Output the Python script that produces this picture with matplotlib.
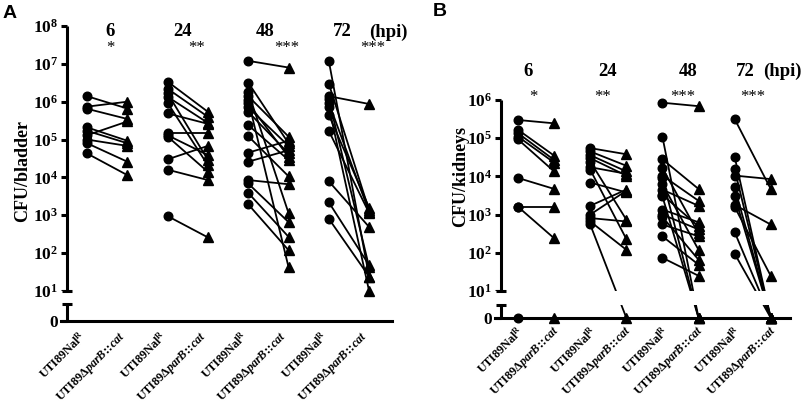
import numpy as np
import matplotlib
matplotlib.use('Agg')
import matplotlib.pyplot as plt

plt.rcParams['font.family'] = ['Liberation Serif', 'DejaVu Serif']
plt.rcParams['mathtext.fontset'] = 'custom'
plt.rcParams['mathtext.rm'] = 'Liberation Serif:bold'
plt.rcParams['mathtext.bf'] = 'Liberation Serif:bold'
plt.rcParams['mathtext.it'] = 'Liberation Serif:italic:bold'
plt.rcParams['mathtext.fallback'] = 'stix'

# ---------------- data ----------------
hpi = ['6', '24', '48', '72']
stars = ['*', '**', '***', '***']
strain_labels = [r'$\mathrm{UTI89Nal}^{\mathrm{R}}$',
                 r'$\mathrm{UTI89\Delta}\mathit{parB}\!:\!\!:\!\mathit{cat}$']

# Panel A: CFU/bladder (paired: wild type -> mutant)
bladder_wt_6 = [1.4e6, 7.4e5, 6.5e5, 2.1e5, 1.7e5, 1.3e5, 1.0e5, 8.0e4, 4.3e4]
bladder_mut_6 = [6.6e5, 1.0e6, 3.5e5, 9.3e4, 8.0e4, 3.0e5, 6.8e4, 2.6e4, 1.15e4]

bladder_wt_24 = [3.4e6, 2.2e6, 1.66e6, 1.35e6, 9.3e5, 4.9e5, 1.45e5, 1.3e5,
                 1.2e5, 3.0e4, 1.6e4, 9.5e2]
bladder_mut_24 = [5.4e5, 4.0e5, 2.9e4, 2.75e5, 2.1e4, 2.6e5, 1.45e5, 3.9e4,
                  1.4e4, 6.8e4, 8.5e3, 2.6e2]

bladder_wt_48 = [1.2e7, 3.2e6, 1.8e6, 1.4e6, 1.1e6, 9.1e5, 7.1e5, 5.4e5,
                 2.4e5, 1.23e5, 4.5e4, 2.6e4, 8.5e3, 6.9e3, 3.9e3, 1.95e3]
bladder_mut_48 = [8.0e6, 8.0e4, 1.15e3, 1.2e5, 43, 3.5e4, 6.8e4, 4.3e4,
                  2.9e4, 1.07e4, 9.3e4, 5.2e4, 6.6e3, 6.6e2, 2.7e2, 1.2e2]

bladder_wt_72 = [1.2e7, 3.0e6, 1.4e6, 1.15e6, 9.3e5, 7.4e5, 4.5e5, 1.7e5,
                 7.9e3, 2.2e3, 8.1e2]
bladder_mut_72 = [24, 1.35e3, 8.7e5, 43, 1.23e3, 10, 1.6e3, 1.15e3,
                  4.9e2, 48, 24]

# Panel B: CFU/kidneys (paired: wild type -> mutant), 0 = below detection
kidney_wt_6 = [3.0e5, 1.66e5, 1.35e5, 1.1e5, 9.3e4, 9.1e3, 1.6e3, 1.6e3, 0]
kidney_mut_6 = [2.45e5, 3.5e4, 2.7e4, 2.3e4, 1.35e4, 4.7e3, 1.6e3, 2.4e2, 0]

kidney_wt_24 = [5.5e4, 4.5e4, 3.6e4, 3.0e4, 2.45e4, 1.74e4, 1.5e4, 6.9e3,
                1.7e3, 1.0e3, 8.1e2, 6.6e2, 5.5e2]
kidney_mut_24 = [3.8e4, 1.9e4, 1.35e4, 1.05e4, 7.4e2, 1.17e4, 2.3e2, 3.8e3,
                 4.5e3, 4.2e3, 6.6e2, 1.2e2, 0]

kidney_wt_48 = [8.5e5, 1.1e5, 2.8e4, 1.66e4, 1.05e4, 9.1e3, 6.3e3, 4.5e3,
                3.3e3, 3.0e3, 1.35e3, 1.0e3, 8.7e2, 5.5e2, 2.7e2, 74]
kidney_mut_48 = [6.9e5, 0, 4.7e3, 3.2e2, 2.3e3, 0, 1.2e2, 1.7e3,
                 4.9e2, 0, 6.3e2, 4.1e2, 66, 2.7e2, 49, 25]

kidney_wt_72 = [3.2e5, 3.3e4, 1.55e4, 1.05e4, 5.2e3, 3.1e3, 1.8e3, 1.6e3,
                3.5e2, 95]
kidney_mut_72 = [4.7e3, 0, 0, 8.5e3, 0, 0, 5.5e2, 25, 0, 0]

bladder = [(bladder_wt_6, bladder_mut_6), (bladder_wt_24, bladder_mut_24),
           (bladder_wt_48, bladder_mut_48), (bladder_wt_72, bladder_mut_72)]
kidney = [(kidney_wt_6, kidney_mut_6), (kidney_wt_24, kidney_mut_24),
          (kidney_wt_48, kidney_mut_48), (kidney_wt_72, kidney_mut_72)]

# ---------------- figure ----------------
W, H = 809, 404
fig = plt.figure(figsize=(W / 100, H / 100), dpi=100)


def rect(l, r, b, t):
    return [l / W, 1 - b / H, (r - l) / W, (b - t) / H]


def make_scale(z):
    def fwd(v):
        v = np.asarray(v, dtype=float)
        safe = np.where(v > 0, v, 1.0)
        return np.where(v > 0, np.log10(safe), z)

    def inv(y):
        return 10.0 ** np.asarray(y, dtype=float)
    return fwd, inv


def draw_panel(ax, groups, z, cap_log, top_exp, col0, step, left_px, right_px,
               spine_px, ylabel, ylab_xy, label_y, star_y, label_x, star_x,
               xpad, xlab_shift_px):
    ax.set_yscale('function', functions=make_scale(z))
    ax.set_ylim(0, 10.0 ** top_exp)
    ax.set_xlim((left_px - col0) / step, (right_px - col0) / step)
    spine_x = (spine_px - col0) / step
    cap_val = 10.0 ** cap_log

    for g, (wt, mut) in enumerate(groups):
        xc, xt = 2 * g, 2 * g + 1
        for a, b in zip(wt, mut):
            ax.plot([xc, xt], [a, b], color='k', lw=1.3, zorder=2,
                    solid_capstyle='butt')
        ax.plot([xc] * len(wt), wt, 'o', color='k', ms=6.2, zorder=3,
                clip_on=False)
        ax.plot([xt] * len(mut), mut, '^', color='k', ms=6.6, zorder=3,
                clip_on=False)

    # axis break mask
    ax.axhspan(cap_val, 10, color='white', lw=0, zorder=2.5)

    for s in ['top', 'right']:
        ax.spines[s].set_visible(False)
    ax.spines['left'].set_position(('data', spine_x))
    ax.spines['left'].set_bounds(10, 10.0 ** top_exp)
    ax.spines['left'].set_linewidth(2.2)
    ax.spines['bottom'].set_linewidth(2.2)
    ax.spines['left'].set_capstyle('butt')

    # lower axis segment with caps
    ax.plot([spine_x, spine_x], [0, cap_val], color='k', lw=2.2,
            solid_capstyle='butt', clip_on=False, zorder=5)
    for v in (10, cap_val):
        ax.plot([spine_x], [v], marker='_', ms=7.4, mew=2.2, color='k',
                clip_on=False, zorder=5)

    yt = [0] + [10.0 ** k for k in range(1, top_exp + 1)]
    ylabels = ['0'] + [r'$10^{%d}$' % k for k in range(1, top_exp + 1)]
    ax.set_yticks(yt, ylabels)
    ax.tick_params(axis='y', direction='out', length=4.6, width=2.2,
                   labelsize=12.5, pad=2)
    for t in ax.get_yticklabels():
        t.set_fontweight('bold')

    ax.set_xticks(np.arange(8) + xlab_shift_px / step, strain_labels * 4)
    ax.tick_params(axis='x', length=0, pad=xpad)
    for t in ax.get_xticklabels():
        t.set_rotation(45)
        t.set_ha('right')
        t.set_va('center')
        t.set_rotation_mode('anchor')
        t.set_fontsize(8.7)

    ax.set_ylabel(ylabel, fontsize=13, fontweight='bold')
    ax.yaxis.set_label_coords(*ylab_xy)

    tr = ax.get_xaxis_transform()
    for i, lab in enumerate(hpi):
        ax.text(label_x[i], label_y, lab, transform=tr, ha='center',
                va='center', fontsize=13.5, fontweight='bold', clip_on=False)
        ax.text(star_x[i], star_y, stars[i], transform=tr, ha='center',
                va='center', fontsize=12, clip_on=False)
    ax.text(label_x[4], label_y, '(hpi)', transform=tr, ha='center',
            va='center', fontsize=13.5, fontweight='bold', clip_on=False)


axA = fig.add_axes(rect(60.7, 392, 320.7, 26))
draw_panel(axA, bladder, z=0.214, cap_log=0.649, top_exp=8, col0=87,
           step=40.3, left_px=60.7, right_px=392, spine_px=67.3,
           ylabel='CFU/bladder', ylab_xy=(-0.088, 0.508),
           label_y=0.98, star_y=0.925,
           label_x=[0.57, 2.38, 4.42, 6.33, 7.47],
           star_x=[0.57, 2.73, 4.96, 7.10], xpad=9.5, xlab_shift_px=-3)

axB = fig.add_axes(rect(495, 790, 317.7, 100))
draw_panel(axB, kidney, z=0.30, cap_log=0.634, top_exp=6, col0=518,
           step=36.1, left_px=495, right_px=790, spine_px=501.3,
           ylabel='CFU/kidneys', ylab_xy=(-0.087, 0.651),
           label_y=1.13, star_y=1.014,
           label_x=[0.28, 2.49, 4.71, 6.29, 7.31],
           star_x=[0.42, 2.35, 4.57, 6.51], xpad=8, xlab_shift_px=4)

fig.text(10 / W, 1 - 13 / H, 'A', family='Liberation Sans',
         fontweight='bold', fontsize=14, ha='center', va='center')
fig.text(440 / W, 1 - 12 / H, 'B', family='Liberation Sans',
         fontweight='bold', fontsize=14, ha='center', va='center')

fig.savefig('out.png', dpi=100, facecolor='white')
